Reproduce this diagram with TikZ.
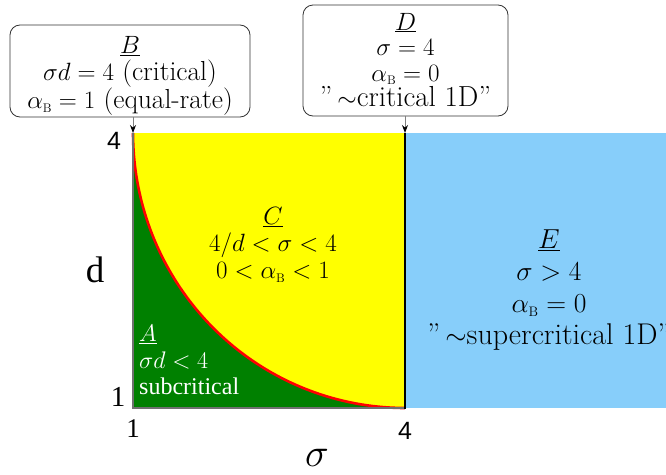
\RequirePackage{fix-cm}
\documentclass[tikz,border=0pt]{standalone}
\usepackage{fontspec}
\newfontfamily\timesf{Liberation Serif}
\newfontfamily\arialf{Liberation Sans}
\usetikzlibrary{arrows.meta}
\newcommand{\aB}{\alpha_{\scriptscriptstyle\mathrm{B}}}
\newcommand{\mth}[1]{{\fontsize{25}{30}\selectfont$#1$}}
\newcommand{\mthE}[1]{{\fontsize{27.5}{30}\selectfont$#1$}}
\definecolor{grn}{HTML}{008000}
\definecolor{yel}{HTML}{FFFF00}
\definecolor{sky}{HTML}{87CEFA}
\definecolor{bordgray}{HTML}{707070}
\tikzset{
  infobox/.style={draw=black!80, line width=0.8pt, rounded corners=10pt, inner sep=0pt},
  boxtext/.style={align=center, inner sep=0pt},
  regiontext/.style={align=center, inner sep=0pt},
  ticklab/.style={inner sep=0pt},
  pointer/.style={draw=gray, line width=1pt, -{Stealth[black,length=8pt,width=6pt]}}
}
\begin{document}
\begin{tikzpicture}[x=1pt,y=-1pt]
\useasboundingbox (0,0) rectangle (666,474);
% regions
\fill[yel] (133,133) rectangle (405,408);
\fill[sky] (405,133) rectangle (666,408);
\fill[grn] (133,133) -- plot[domain=0:90, samples=80] ({405-272*cos(\x)}, {133+275*sin(\x)}) -- (133,408) -- cycle;
\draw[red, line width=2.6pt] plot[domain=0:90, samples=80] ({405-272*cos(\x)}, {133+275*sin(\x)});
\draw[bordgray, line width=1.3pt] (133,133) -- (133,408) -- (405,408);
\draw[black, line width=1.8pt] (405,133) -- (405,409);
\coordinate (tl) at (133,133);
\coordinate (tr) at (405,133);
% tick labels
\node[ticklab, font=\arialf\fontsize{25}{25}\selectfont] (t4l) at (114,141) {4};
\node[ticklab, font=\timesf\fontsize{29}{29}\selectfont] (t1l) at (118,397) {1};
\node[ticklab, font=\timesf\fontsize{27}{27}\selectfont] (t1b) at (133,429) {1};
\node[ticklab, font=\arialf\fontsize{25}{25}\selectfont] (t4b) at (405,431) {4};
\node[ticklab, font=\timesf\fontsize{37}{37}\selectfont] (dlab) at (95,270) {d};
\node[ticklab, font=\fontsize{40}{40}\selectfont] (slab) at (317,458) {$\sigma$};
% info boxes
\node[infobox, minimum width=240pt, minimum height=92pt] (B) at (130,71) {};
\node[boxtext, font=\fontsize{27.5}{26.5}\selectfont] (Bt) at (130,76)
  {\mth{\underline{B}}\\ \mth{\sigma d = 4} (critical)\\ \mth{\aB = 1} (equal-rate)};
\node[infobox, minimum width=205pt, minimum height=111pt] (D) at (405.5,60.5) {};
\node[boxtext, font=\fontsize{29}{25.5}\selectfont] (Dt) at (405.5,60)
  {\mth{\underline{D}}\\ \mth{\sigma = 4}\\ \mth{\aB = 0}\\ ”\,\mth{\sim}critical 1D”};
\draw[pointer] (B.south -| tl) -- (tl);
\draw[pointer] (D.south -| tr) -- (tr);
% region texts
\node[regiontext, font=\fontsize{25}{27}\selectfont] (C) at (273,245)
  {$\underline{C}$\\ $4/d < \sigma < 4$\\ $0 < \aB < 1$};
\node[regiontext, font=\fontsize{30}{32}\selectfont] (E) at (549,290)
  {\mthE{\underline{E}}\\ \mthE{\sigma > 4}\\ \mthE{\aB = 0}\\ ”\,\mthE{\sim}supercritical 1D”};
\node[regiontext, align=left, anchor=west, text=white, font=\fontsize{24}{26.5}\selectfont] (A) at (139,360)
  {$\underline{A}$\\ $\sigma d < 4$\\ {\timesf subcritical}};
\end{tikzpicture}
\end{document}
